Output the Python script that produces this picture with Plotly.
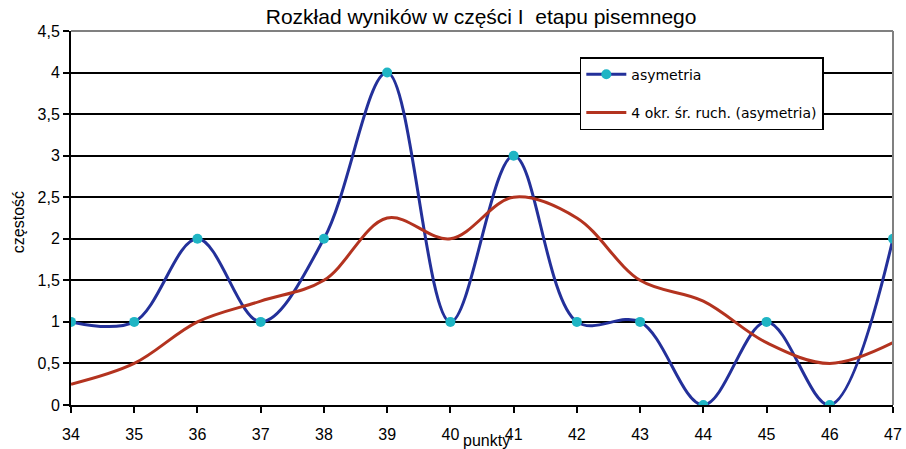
import plotly.graph_objects as go

punkty = [34, 35, 36, 37, 38, 39, 40, 41, 42, 43, 44, 45, 46, 47]
asymetria = [1, 1, 2, 1, 2, 4, 1, 3, 1, 1, 0, 1, 0, 2]
srednia_ruchoma = [0.25, 0.5, 1.0, 1.25, 1.5, 2.25, 2.0, 2.5, 2.25, 1.5, 1.25, 0.75, 0.5, 0.75]
y_ticks = [0, 0.5, 1, 1.5, 2, 2.5, 3, 3.5, 4, 4.5]

FONT = "Liberation Sans, Arial, sans-serif"

fig = go.Figure()
fig.add_trace(go.Scatter(
    x=punkty, y=asymetria, name="asymetria", legendgroup="a",
    mode="lines+markers",
    line=dict(color="#23309a", width=3, shape="spline", smoothing=1.0),
    marker=dict(color="#1fb5c4", size=10, line=dict(width=0)),
))
fig.add_trace(go.Scatter(
    x=punkty, y=srednia_ruchoma, name="4 okr. śr. ruch. (asymetria)", legendgroup="b",
    mode="lines",
    line=dict(color="#b3331f", width=3, shape="spline", smoothing=1.0),
))

fig.update_layout(
    width=906, height=449, autosize=False,
    margin=dict(l=71, r=13, t=31, b=44, autoexpand=False),
    paper_bgcolor="white", plot_bgcolor="white",
    separators=", ",
    font=dict(family=FONT, size=16, color="black"),
    title=dict(text="Rozkład wyników w części I  etapu pisemnego",
               x=0.531, xanchor="center", y=0.962, yanchor="middle",
               font=dict(size=21, family=FONT)),
    showlegend=True,
    legend=dict(x=0.619, y=0.93, xanchor="left", yanchor="top",
                bgcolor="white", bordercolor="black", borderwidth=1.5,
                font=dict(size=14, family="DejaVu Sans, Verdana, sans-serif"),
                traceorder="grouped", tracegroupgap=17, itemwidth=40),
    xaxis=dict(range=[34, 47], tickmode="array", tickvals=punkty,
               ticktext=[str(p) for p in punkty], automargin=False,
               showgrid=False, zeroline=False,
               showline=True, linecolor="black", linewidth=2,
               ticks="outside", ticklen=6, tickcolor="black", tickwidth=1.5,
               ticklabelstandoff=8,
               tickfont=dict(size=16), mirror=False),
    yaxis=dict(range=[0, 4.5], tickmode="array", tickvals=y_ticks, automargin=False,
               showgrid=True, gridcolor="black", gridwidth=1.5,
               zeroline=False,
               showline=True, linecolor="black", linewidth=2,
               ticks="outside", ticklen=6, tickcolor="black", tickwidth=1.5,
               tickfont=dict(size=16), tickformat="~g"),
    shapes=[
        dict(type="line", xref="paper", yref="paper", x0=0, x1=1, y0=1, y1=1,
             line=dict(color="#808080", width=2)),
        dict(type="line", xref="paper", yref="paper", x0=1, x1=1, y0=0, y1=1,
             line=dict(color="#808080", width=2)),
    ],
    annotations=[
        dict(text="punkty", xref="paper", yref="paper", x=0.505, y=-0.095,
             xanchor="center", yanchor="middle", showarrow=False,
             font=dict(size=16, family=FONT)),
        dict(text="częstość", xref="paper", yref="paper", x=-0.064, y=0.49,
             xanchor="center", yanchor="middle", showarrow=False, textangle=-90,
             font=dict(size=16, family=FONT)),
    ],
)

fig.write_html(
    "out.html",
    config={"responsive": False, "displayModeBar": False},
    default_width="906px", default_height="449px",
    post_script="document.body.style.margin='0';document.body.style.overflow='hidden';",
)
